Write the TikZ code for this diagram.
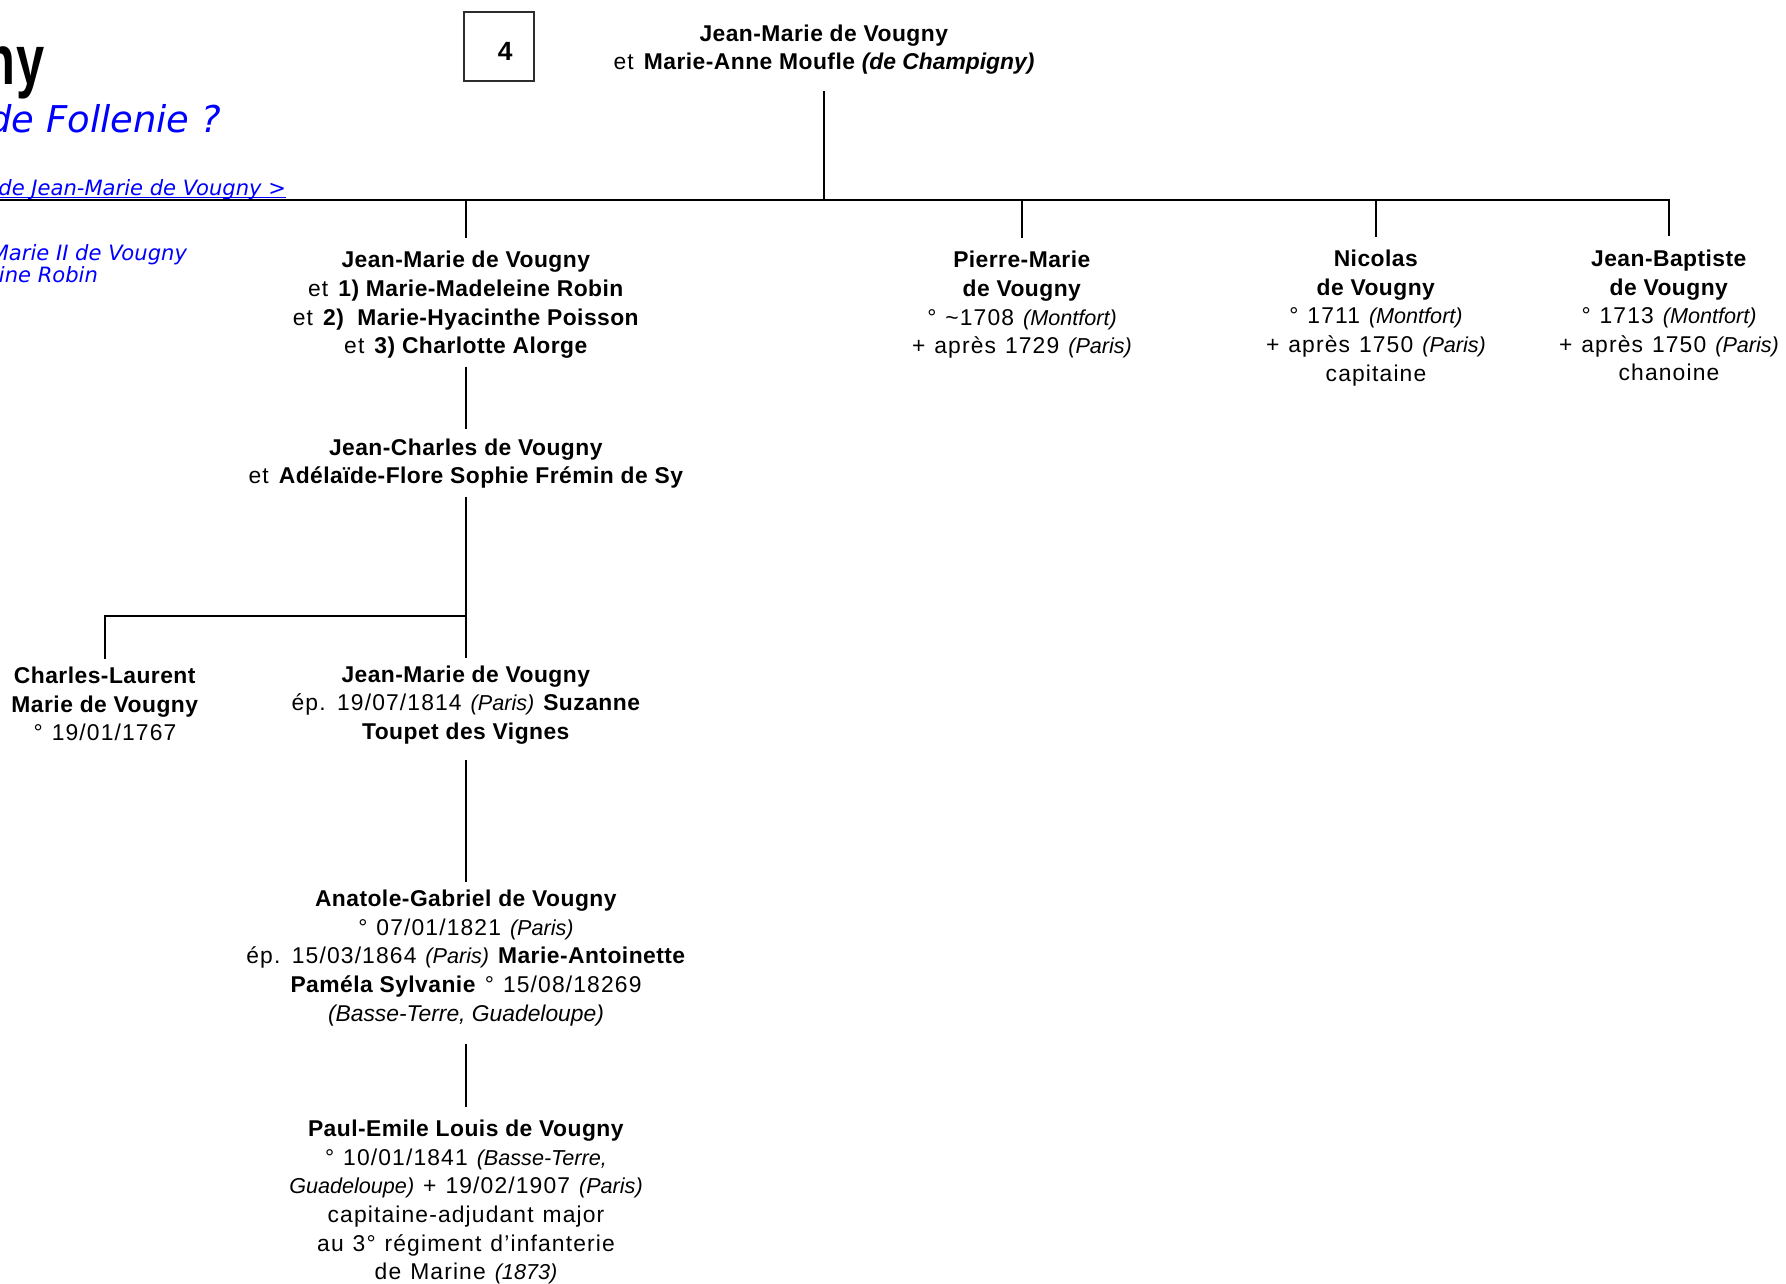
\documentclass[tikz,border=0pt]{standalone}
\usepackage{graphicx}
\usepackage{fontspec}
\setmainfont{Liberation Sans}[UprightFeatures={LetterSpace=5,WordSpace=1.2},BoldFeatures={LetterSpace=2}]
\newfontfamily\verdfont{DejaVu Sans}
\definecolor{myblue}{RGB}{0,0,255}
\definecolor{mygray}{RGB}{45,45,45}
\usetikzlibrary{positioning,calc}
\newcommand{\placefont}{\fontsize{12.3}{16.3}\selectfont\itshape}
\newcommand{\lieu}[1]{{\placefont (#1)}}
\newcommand{\lien}[1]{\setbox0\hbox{#1}\rlap{\rule[-1.2pt]{\wd0}{0.6pt}}\box0}

\begin{document}
\begin{tikzpicture}[x=0.02cm,y=-0.02cm,
    line width=1.2pt,
    every node/.style={font=\fontsize{13}{16.3}\selectfont,align=center,inner xsep=0pt,inner ysep=4pt},
    numbox/.style={draw=mygray,line width=0.6pt,minimum width=1.4cm,minimum height=1.38cm,
      text height=16pt,text depth=0pt,font=\fontsize{15}{17}\selectfont\bfseries},
    bigtitle/.style={anchor=base east,inner sep=0pt,font=\fontsize{40}{44}\selectfont\bfseries},
    subtitle/.style={anchor=base east,inner sep=0pt,text=myblue,font=\verdfont\itshape\fontsize{21}{24}\selectfont},
    linktext/.style={anchor=base east,inner sep=0pt,text=myblue,font=\verdfont\itshape\fontsize{12}{14}\selectfont}
    ]
    \useasboundingbox (0,0) rectangle (1786,1284);

    % the page heading, cut at the left
    \node[bigtitle] (ny) at (46,85) {\scalebox{0.72}[1]{ny}};
    \node[subtitle] (follenie) at (222,133) {de Follenie ?};
    \node[linktext] (back) at (287,196) {\lien{de Jean-Marie de Vougny >}};
    \node[linktext] (prev1) at (188,261) {Marie II de Vougny};
    \node[linktext] (prev2) at (99,283) {ine Robin};

    % the number of the generation
    \node[numbox] (num) at (499,46.5) {\hspace*{7pt}4};

    % the parents
    \node (top) at (824,49.5) {\textbf{Jean-Marie de Vougny}\\
      et \textbf{Marie-Anne Moufle \textit{(de Champigny)}}};

    % the children
    \node (jm1) at (466,305) {\textbf{Jean-Marie de Vougny}\\
      et \textbf{1) Marie-Madeleine Robin}\\
      et \textbf{2)~~Marie-Hyacinthe Poisson}\\
      et \textbf{3) Charlotte Alorge}};
    \node (pm) at (1022,305) {\textbf{Pierre-Marie}\\ \textbf{de Vougny}\\
      ° \textasciitilde1708 \lieu{Montfort}\\ + après 1729 \lieu{Paris}};
    \node (nic) at (1376,318) {\textbf{Nicolas}\\ \textbf{de Vougny}\\
      ° 1711 \lieu{Montfort}\\ + après 1750 \lieu{Paris}\\ capitaine};
    \node (jb) at (1669,315.5) {\textbf{Jean-Baptiste}\\ \textbf{de Vougny}\\
      ° 1713 \lieu{Montfort}\\ + après 1750 \lieu{Paris}\\ chanoine};

    % the descendants of Jean-Marie
    \node (jc) at (466,463.5) {\textbf{Jean-Charles de Vougny}\\
      et \textbf{Adélaïde-Flore Sophie Frémin de Sy}};
    \node (cl) at (105,704) {\textbf{Charles-Laurent}\\ \textbf{Marie de Vougny}\\ ° 19/01/1767};
    \node (jm3) at (466,705) {\textbf{Jean-Marie de Vougny}\\
      ép. 19/07/1814 \lieu{Paris} \textbf{Suzanne}\\ \textbf{Toupet des Vignes}};
    \node (ag) at (466,958) {\textbf{Anatole-Gabriel de Vougny}\\
      ° 07/01/1821 \lieu{Paris}\\
      ép. 15/03/1864 \lieu{Paris} \textbf{Marie-Antoinette}\\
      \textbf{Paméla Sylvanie} ° 15/08/18269\\
      {\fontsize{13}{16.3}\selectfont\itshape (Basse-Terre, Guadeloupe)}};
    \node (pe) at (466,1202) {\textbf{Paul-Emile Louis de Vougny}\\
      ° 10/01/1841 {\placefont (Basse-Terre,}\\
      {\placefont Guadeloupe)} + 19/02/1907 \lieu{Paris}\\
      capitaine-adjudant major\\
      au 3° régiment d’infanterie\\
      de Marine \lieu{1873}};

    % the lines
    \coordinate (bar) at (-10,200);
    \coordinate (fork) at (466,616);
    \draw[shorten <=5pt] (top) -- (top |- bar);
    \draw[line width=1.6pt,line cap=rect] (bar) -- (bar -| jb);
    \foreach \n in {jm1,pm,nic,jb}
      \draw[shorten >=3pt] (bar -| \n) -- (\n);
    \draw[shorten >=1pt] (jm1) -- (jc);
    \draw (jc) -- (jm3);
    \draw (fork) -| (cl);
    \draw[shorten <=4.5pt] (jm3) -- (ag);
    \draw[shorten <=5.5pt,shorten >=3pt] (ag) -- (pe);
\end{tikzpicture}
\end{document}
